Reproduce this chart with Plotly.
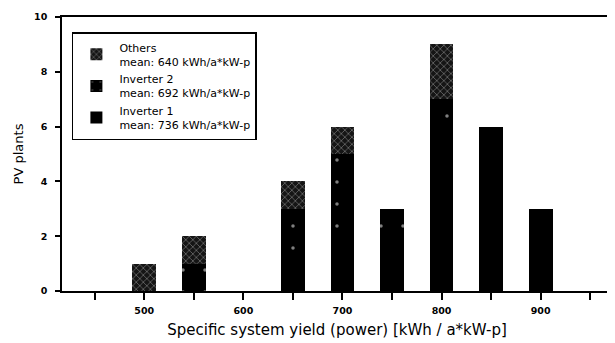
import plotly.graph_objects as go

# Bin centres of specific system yield [kWh / a*kW-p]
bins = [500, 550, 600, 650, 700, 750, 800, 850, 900]
inverter1 = [0, 0, 0, 1, 2, 2, 6, 6, 3]
inverter2 = [0, 1, 0, 2, 3, 1, 1, 0, 0]
others = [1, 1, 0, 1, 1, 0, 2, 0, 0]

names = [
    "Inverter 1<br>mean: 736 kWh/a*kW-p",
    "Inverter 2<br>mean: 692 kWh/a*kW-p",
    "Others<br>mean: 640 kWh/a*kW-p",
]

x_tickvals = [450, 500, 550, 600, 650, 700, 750, 800, 850, 900, 950]
x_ticktext = ["", "500", "", "600", "", "700", "", "800", "", "900", ""]
y_tickvals = [0, 2, 4, 6, 8, 10]

fig = go.Figure()
fig.add_trace(go.Bar(
    x=bins, y=inverter1, name=names[0], width=24,
    marker=dict(color="black", line=dict(width=0)),
))
fig.add_trace(go.Bar(
    x=bins, y=inverter2, name=names[1], width=24,
    marker=dict(color="black", line=dict(width=0),
                pattern=dict(shape=".", bgcolor="black", fgcolor="white",
                             size=22, solidity=0.02)),
))
fig.add_trace(go.Bar(
    x=bins, y=others, name=names[2], width=24,
    marker=dict(color="black", line=dict(width=0),
                pattern=dict(shape="x", bgcolor="#151515", fgcolor="#dddddd",
                             size=5, solidity=0.25)),
))

font_family = "DejaVu Sans, Verdana, sans-serif"

# The page body has an 8px default margin, so the figure is sized 8px smaller
fig.update_layout(
    width=607, height=335,
    barmode="stack",
    paper_bgcolor="white", plot_bgcolor="white",
    margin=dict(l=54, r=3, t=9, b=52),
    font=dict(family=font_family, color="black"),
    showlegend=True,
    legend=dict(
        x=0.018, y=0.945, xanchor="left", yanchor="top",
        traceorder="reversed",
        bordercolor="black", borderwidth=1.5,
        bgcolor="white",
        font=dict(size=11, family=font_family, color="black"),
        tracegroupgap=11,
        itemwidth=36,
    ),
    xaxis=dict(
        range=[417, 972],
        automargin=False,
        tickmode="array", tickvals=x_tickvals, ticktext=x_ticktext,
        ticks="outside", ticklen=7, tickwidth=1.5, tickcolor="black",
        showline=True, linecolor="black", linewidth=1.5,
        mirror=True,
        showgrid=False, zeroline=False,
        ticklabelstandoff=3,
        tickfont=dict(size=9.5, family=font_family, color="black", weight="bold"),
        title=dict(text="Specific system yield (power) [kWh / a*kW-p]",
                   font=dict(size=15, family=font_family, color="black"),
                   standoff=9),
    ),
    yaxis=dict(
        range=[0, 10],
        automargin=False,
        tickmode="array", tickvals=y_tickvals,
        ticks="outside", ticklen=5, tickwidth=1.5, tickcolor="black",
        showline=True, linecolor="black", linewidth=1.5,
        mirror=False,
        showgrid=False, zeroline=False,
        ticklabelstandoff=6,
        tickfont=dict(size=9.5, family=font_family, color="black", weight="bold"),
        title=dict(text="PV plants",
                   font=dict(size=13, family=font_family, color="black"),
                   standoff=8),
    ),
)

fig.write_html("out.html")
